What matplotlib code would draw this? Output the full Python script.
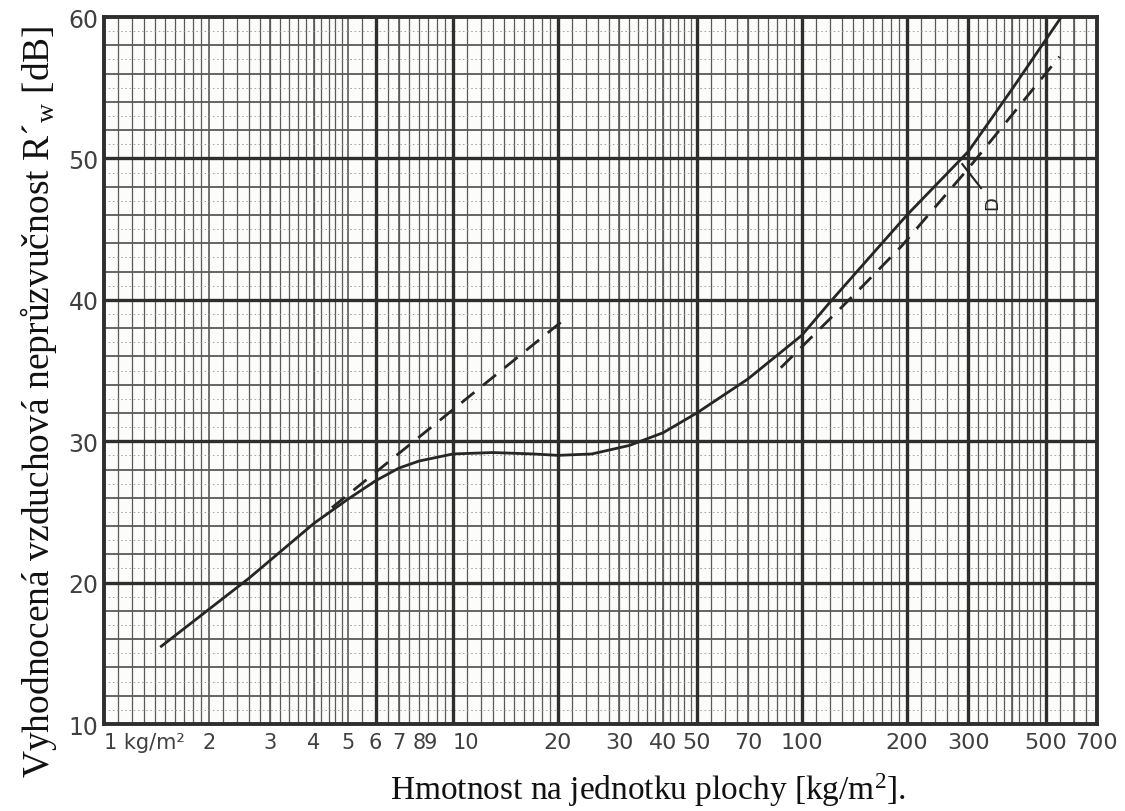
import numpy as np
import matplotlib
matplotlib.use("Agg")
import matplotlib.pyplot as plt

plt.rcParams["mathtext.fontset"] = "custom"
plt.rcParams["mathtext.rm"] = "Liberation Serif"
plt.rcParams["mathtext.it"] = "Liberation Serif:italic"

# hmotnost [kg/m2] a neprůzvučnost [dB]
mass_solid = [1.46, 2.6, 4.0, 5.0, 6.0, 7.0, 8.0, 10, 13, 17, 20, 25, 32, 40, 50,
              70, 100, 120, 160, 200, 300, 400, 550]
rw_solid = [15.5, 20.3, 24.2, 25.9, 27.2, 28.1, 28.6, 29.1, 29.2, 29.1, 29.0, 29.1,
            29.7, 30.6, 32.0, 34.4, 37.5, 39.8, 43.3, 46.0, 50.5, 54.9, 59.9]

mass_dash_low = [4.5, 21.3]
rw_dash_low = [25.3, 38.8]

mass_dash_high = [87, 143, 193, 300, 547]
rw_dash_high = [35.2, 40.5, 43.8, 49.3, 57.2]

x_ticks = [1, 2, 3, 4, 5, 6, 7, 8, 9, 10, 20, 30, 40, 50, 70, 100, 200, 300, 500, 700]
x_labels = ["1 kg/m²", "2", "3", "4", "5", "6", "7", "8", "9", "10", "20", "30", "40",
            "50", "70", "100", "200", "300", "500", "700"]
y_ticks = [10, 20, 30, 40, 50, 60]

ink = "#2e2e2e"
grid_c = "#5a5a5a"

fig = plt.figure(figsize=(11.25, 8.12), dpi=100)
ax = fig.add_axes([0.0924, 0.1071, 0.8826, 0.8707])
ax.set_xscale("log")
ax.set_xlim(1, 700)
ax.set_ylim(10, 60)
ax.set_facecolor("#fcfcfa")

# mřížka jako na logaritmickém papíře
fine_x = []
for dec in [1, 10, 100]:
    fine_x += list(np.arange(1.1, 2.0, 0.1) * dec)
    fine_x += list(np.arange(2.2, 5.0, 0.2) * dec)
    fine_x += list(np.arange(5.5, 10.0, 0.5) * dec)
fine_x = [v for v in fine_x if v < 700]
ax.vlines(fine_x, 10, 60, color=grid_c, lw=0.9, zorder=1)
ax.vlines([2, 3, 4, 5, 7, 30, 40, 70, 400, 600], 10, 60, color=grid_c, lw=1.2, zorder=1)
ax.vlines([6, 10, 20, 50, 100, 200, 300, 500], 10, 60, color=ink, lw=2.4, zorder=2)

ax.hlines(np.arange(11, 60, 2), 1, 700, color="#9a9a9a", lw=0.6, linestyles=(0, (2, 3)), zorder=1)
ax.hlines(np.arange(12, 60, 2), 1, 700, color=grid_c, lw=1.3, zorder=1)
ax.hlines([20, 30, 40, 50], 1, 700, color=ink, lw=2.4, zorder=2)

for s in ax.spines.values():
    s.set_color(ink)
    s.set_linewidth(2.8)

# křivky
ax.plot(mass_solid, rw_solid, color="#262626", lw=2.0, zorder=5)
ax.plot(mass_dash_low, rw_dash_low, color="#262626", lw=2.0, ls=(0, (6, 4)), zorder=5)
ax.plot(mass_dash_high, rw_dash_high, color="#262626", lw=2.0, ls=(0, (6, 4)), zorder=5)

# označení D
ax.plot([288, 326], [49.6, 47.9], color="#262626", lw=1.5, zorder=5)
ax.text(350, 46.9, "D", rotation=90, ha="center", va="center", fontsize=13,
        color="#262626", zorder=6)

tick_font = ["Liberation Sans Narrow", "DejaVu Sans"]
ax.set_xticks(x_ticks)
ax.set_xticklabels(x_labels)
ax.xaxis.set_minor_locator(matplotlib.ticker.NullLocator())
ax.set_yticks(y_ticks)
ax.tick_params(length=0, labelsize=15, colors="#404040", pad=6)
ax.tick_params(axis="y", labelsize=17, pad=4)
for lab in ax.get_xticklabels() + ax.get_yticklabels():
    lab.set_family(tick_font)
xl = ax.get_xticklabels()
xl[0].set_horizontalalignment("left")
xl[8].set_horizontalalignment("right")
xl[9].set_horizontalalignment("left")
for lab in xl[10:]:
    lab.set_fontsize(16)

serif = ["Liberation Serif", "DejaVu Serif"]
fig.text(0.576, 0.027, "Hmotnost na jednotku plochy [kg/m$^{\\mathrm{2}}$].", ha="center",
         va="center", fontsize=24, family=serif, color="#111111")
fig.text(0.034, 0.505, "Vyhodnocená vzduchová neprůzvučnost R´$_{\\mathrm{w}}$ [dB]",
         rotation=90, ha="center", va="center", fontsize=27, family=serif, color="#111111")

fig.savefig("out.png", dpi=100, facecolor="white")
